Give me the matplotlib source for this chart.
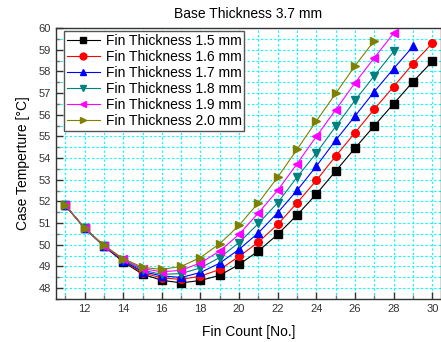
import matplotlib
matplotlib.use("Agg")
import matplotlib.pyplot as plt
from matplotlib.ticker import MultipleLocator

plt.rcParams['font.family'] = ['Liberation Sans', 'DejaVu Sans']

fin_count = [11, 12, 13, 14, 15, 16, 17, 18, 19, 20, 21, 22, 23, 24, 25, 26, 27, 28, 29, 30]

t15 = [51.82, 50.77, 49.93, 49.21, 48.64, 48.36, 48.24, 48.35, 48.59, 49.09,
       49.71, 50.48, 51.37, 52.34, 53.40, 54.46, 55.49, 56.51, 57.52, 58.46]
t16 = [51.82, 50.77, 49.94, 49.24, 48.70, 48.47, 48.40, 48.55, 48.86, 49.46,
       50.12, 50.94, 51.93, 52.97, 54.09, 55.17, 56.26, 57.30, 58.35, 59.30]
t17 = [51.82, 50.77, 49.95, 49.27, 48.76, 48.56, 48.49, 48.72, 49.15, 49.79,
       50.55, 51.48, 52.51, 53.63, 54.82, 55.94, 57.07, 58.13, 59.15]
t18 = [51.82, 50.77, 49.95, 49.30, 48.83, 48.63, 48.67, 48.93, 49.41, 50.10,
       50.98, 51.94, 53.12, 54.23, 55.46, 56.66, 57.80, 58.92]
t19 = [51.82, 50.77, 49.96, 49.33, 48.90, 48.75, 48.82, 49.16, 49.71, 50.48,
       51.47, 52.51, 53.74, 55.00, 56.23, 57.47, 58.63, 59.76]
t20 = [51.82, 50.77, 49.98, 49.36, 48.96, 48.86, 49.00, 49.41, 50.05, 50.90,
       51.94, 53.12, 54.40, 55.71, 56.98, 58.26, 59.42]

series = [
    ("Fin Thickness 1.5 mm", t15, "black", "s"),
    ("Fin Thickness 1.6 mm", t16, "red", "o"),
    ("Fin Thickness 1.7 mm", t17, "blue", "^"),
    ("Fin Thickness 1.8 mm", t18, "#008080", "v"),
    ("Fin Thickness 1.9 mm", t19, "magenta", "<"),
    ("Fin Thickness 2.0 mm", t20, "#808000", ">"),
]

fig = plt.figure(figsize=(4.41, 3.42), dpi=100)
ax = fig.add_axes([0.126, 0.126, 0.874, 0.792])

for label, vals, col, mk in series:
    ax.plot(fin_count[:len(vals)], vals, color=col, marker=mk, ms=5.5,
            lw=0.8, label=label)

ax.set_xlim(10.5, 30.45)
ax.set_ylim(47.5, 60)
ax.xaxis.set_major_locator(MultipleLocator(2))
ax.xaxis.set_minor_locator(MultipleLocator(1))
ax.yaxis.set_major_locator(MultipleLocator(1))
ax.yaxis.set_minor_locator(MultipleLocator(0.5))

ax.grid(True, which='both', color='#00ffff', ls=(0, (2, 2)), lw=0.8)
ax.set_axisbelow(True)

ax.tick_params(which='major', direction='in', length=5, width=1,
               labelsize=8, labelcolor='#333333', color='#333333')
ax.tick_params(which='minor', direction='in', length=3, width=1, color='#777777')
for s in ax.spines.values():
    s.set_color('#333333')
    s.set_linewidth(1)

ax.set_title("Base Thickness 3.7 mm", fontsize=10, pad=7)
ax.set_xlabel("Fin Count [No.]", fontsize=10, labelpad=8)
ax.set_ylabel("Case Temperture [°C]", fontsize=10, labelpad=6)

leg = ax.legend(loc='upper left', fontsize=10, fancybox=False, framealpha=1,
                edgecolor='#555555', borderpad=0.2, labelspacing=0.15,
                handlelength=2.4, handletextpad=0.4, borderaxespad=0.0,
                bbox_to_anchor=(0.022, 0.99), markerscale=0.9)
leg.get_frame().set_linewidth(1)

fig.savefig("out.png", dpi=100)
